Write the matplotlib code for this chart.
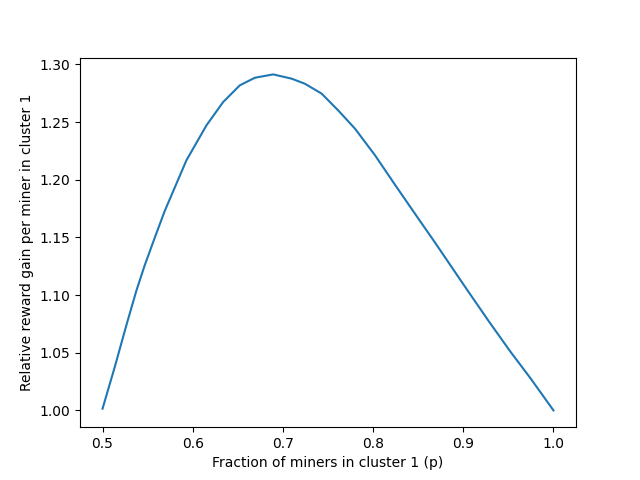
import matplotlib
matplotlib.use("Agg")
import matplotlib.pyplot as plt

p = [0.500, 0.5133, 0.5263, 0.5374, 0.5467, 0.5578, 0.5689, 0.593, 0.6152, 0.6337,
     0.6522, 0.6689, 0.6892, 0.7097, 0.7244, 0.743, 0.7614, 0.780, 0.8022, 0.8244,
     0.8522, 0.867, 0.9022, 0.9281, 0.9522, 0.9744, 1.000]
gain = [1.0015, 1.0370, 1.0735, 1.1035, 1.1257, 1.1495, 1.1728, 1.2168, 1.2471, 1.2673,
        1.2818, 1.2884, 1.2913, 1.2876, 1.2832, 1.2746, 1.2600, 1.2442, 1.2211, 1.1955,
        1.1640, 1.1474, 1.1069, 1.0775, 1.0510, 1.0280, 1.000]

fig, ax = plt.subplots(figsize=(6.4, 4.8), dpi=100)
ax.plot(p, gain, color="#1f77b4")
ax.set_xlabel("Fraction of miners in cluster 1 (p)")
ax.set_ylabel("Relative reward gain per miner in cluster 1")
fig.savefig("out.png")
